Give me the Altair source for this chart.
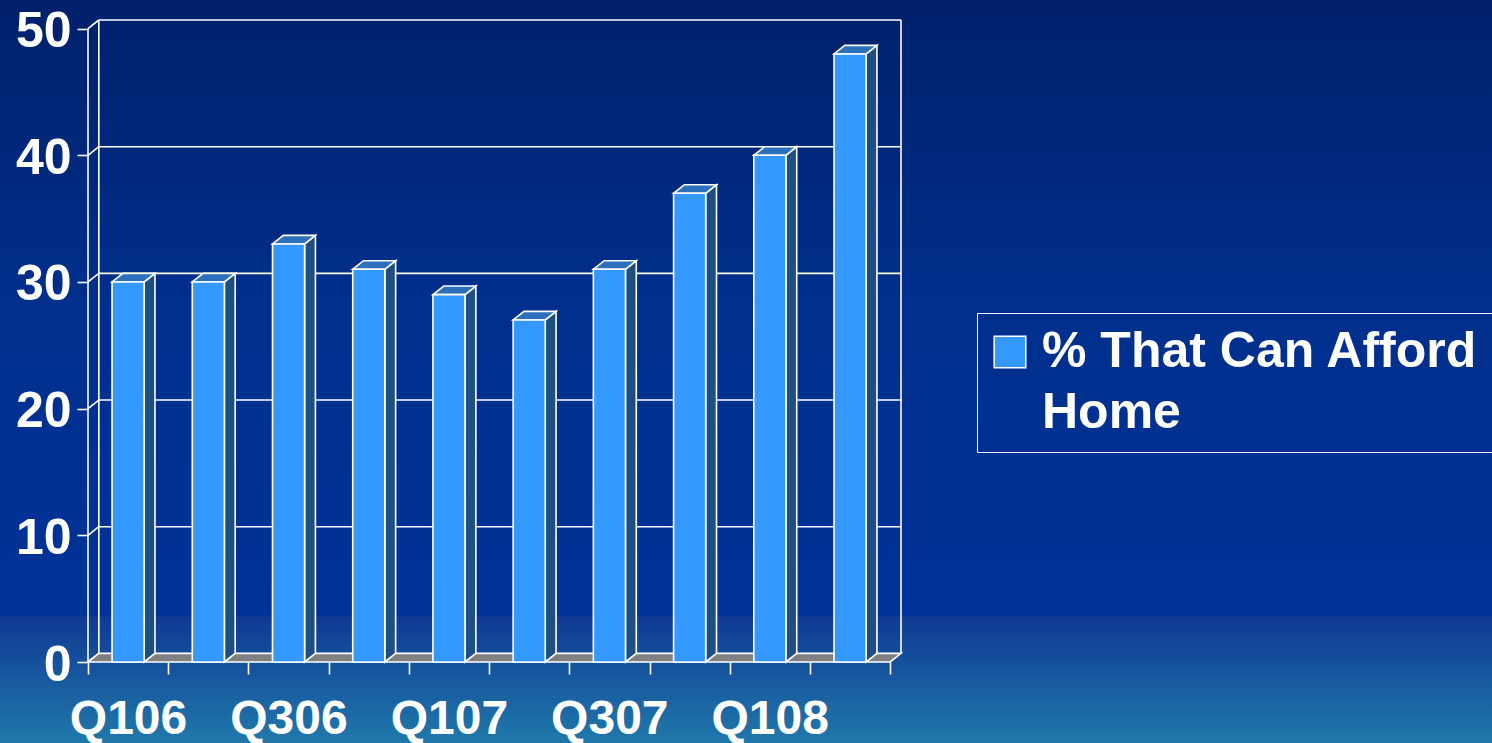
import json
import altair as alt
import pandas as pd

# ---------------- data ----------------
quarters = ["Q106", "Q206", "Q306", "Q406", "Q107", "Q207", "Q307", "Q407", "Q108", "Q208"]
values = [30, 30, 33, 31, 29, 27, 31, 37, 40, 48]
series_name = "% That Can Afford\nHome"
y_ticks = [0, 10, 20, 30, 40, 50]
grid_levels = [10, 20, 30, 40, 50]

# ---------------- style ----------------
N = len(quarters)
YMAX = 50
DX = 0.135      # 3D depth in x units (slot = 1)
DY = 0.68       # 3D depth in y units
BAR_L, BAR_R = 0.3, 0.7
W, H = 813, 642
PAD = {"left": 88, "top": 20, "right": 1492 - 88 - W, "bottom": 743 - 20 - H}
FONT = "Liberation Sans"
FRONT = "#3399ff"
TOP = "#2b6fbd"
SIDE = "#1f4f82"
FLOOR = "#808080"
LW = 1.6

xs = alt.Scale(domain=[0, N + DX], nice=False, zero=False)
ys = alt.Scale(domain=[0, YMAX + DY], nice=False, zero=False)

label_expr = (f"datum.value % 2 == 0 && datum.value < {N} ? "
              f"{json.dumps(quarters)}[datum.value] : ''")

x_axis = alt.Axis(
    values=list(range(N + 1)), labelExpr=label_expr, labelOffset=40,
    labelFlush=False, labelOverlap=False, labelFont=FONT, labelFontSize=48,
    labelFontWeight="bold", labelColor="white", labelPadding=21,
    tickColor="white", tickSize=12, tickWidth=LW, domain=False, grid=False,
    zindex=2)
y_axis = alt.Axis(
    values=y_ticks, labelFont=FONT, labelFontSize=50, labelFontWeight="bold",
    labelColor="white", labelPadding=6, labelOffset=3, labelFlush=False,
    labelOverlap=False, tickColor="white", tickSize=11, tickWidth=LW,
    domain=False, grid=False, zindex=2)

# ---------------- tables built from the arrays ----------------
bars = pd.DataFrame({
    "idx": range(N),
    "quarter": quarters,
    "value": values,
    "series": [series_name] * N,
})
bars["xl"] = bars["idx"] + BAR_L
bars["xr"] = bars["idx"] + BAR_R
bars["zero"] = 0

side_rows, top_rows = [], []
for i, v in zip(bars["idx"], bars["value"]):
    xl, xr = i + BAR_L, i + BAR_R
    side_rows += [
        {"bar": i, "x": xr, "y": 0, "y2": v},
        {"bar": i, "x": xr + DX, "y": DY, "y2": v + DY},
    ]
    top_rows += [
        {"bar": i, "x": xl, "y": v, "y2": v},
        {"bar": i, "x": xl + DX, "y": v, "y2": v + DY},
        {"bar": i, "x": xr, "y": v, "y2": v + DY},
        {"bar": i, "x": xr + DX, "y": v + DY, "y2": v + DY},
    ]
sides = pd.DataFrame(side_rows)
tops = pd.DataFrame(top_rows)

floor = pd.DataFrame({
    "x": [0, DX, N, N + DX],
    "y": [0, 0, 0, DY],
    "y2": [0, DY, DY, DY],
})

grid = pd.DataFrame({"x": [DX] * len(grid_levels), "x2": [N + DX] * len(grid_levels),
                     "y": [g + DY for g in grid_levels]})
walls = pd.DataFrame({"x": [DX, N + DX], "y": [DY, DY], "y2": [YMAX + DY, YMAX + DY]})
diags = pd.DataFrame({"x": [0] * len(y_ticks), "x2": [DX] * len(y_ticks),
                      "y": y_ticks, "y2": [t + DY for t in y_ticks]})
front_axis = pd.DataFrame({"x": [0], "y": [0], "y2": [YMAX]})

# ---------------- layers ----------------
bg = alt.Chart(pd.DataFrame({"a": [0]})).mark_rect(
    fill=alt.Gradient(
        gradient="linear", x1=0, y1=0, x2=0, y2=1,
        stops=[
            alt.GradientStop(offset=0, color="#00206a"),
            alt.GradientStop(offset=0.40, color="#002f8c"),
            alt.GradientStop(offset=0.828, color="#003399"),
            alt.GradientStop(offset=0.83, color="#0f3a94"),
            alt.GradientStop(offset=1, color="#2079aa"),
        ],
    )
).encode(
    x=alt.value(-PAD["left"]), x2=alt.value(W + PAD["right"]),
    y=alt.value(-PAD["top"]), y2=alt.value(H + PAD["bottom"]),
)


def X(f):
    return alt.X(f, type="quantitative", scale=xs, axis=x_axis, title=None)


def Y(f):
    return alt.Y(f, type="quantitative", scale=ys, axis=y_axis, title=None, stack=None)


floor_l = alt.Chart(floor).mark_area(fill=FLOOR, stroke="white", strokeWidth=LW).encode(
    x=X("x"), y=Y("y"), y2="y2")

grid_l = alt.Chart(grid).mark_rule(color="white", strokeWidth=LW).encode(
    x=X("x"), x2="x2", y=Y("y"))

walls_l = alt.Chart(walls).mark_rule(color="white", strokeWidth=LW).encode(
    x=X("x"), y=Y("y"), y2="y2")

diag_l = alt.Chart(diags).mark_rule(color="white", strokeWidth=LW).encode(
    x=X("x"), x2="x2", y=Y("y"), y2="y2")

side_l = alt.Chart(sides).mark_area(fill=SIDE, stroke="white", strokeWidth=LW).encode(
    x=X("x"), y=Y("y"), y2="y2", detail="bar:N")

top_l = alt.Chart(tops).mark_area(fill=TOP, stroke="white", strokeWidth=LW).encode(
    x=X("x"), y=Y("y"), y2="y2", detail="bar:N")

front_l = alt.Chart(bars).mark_rect(stroke="white", strokeWidth=LW).encode(
    x=X("xl"), x2="xr",
    y=Y("value"), y2="zero",
    color=alt.Color("series:N", scale=alt.Scale(range=[FRONT]), legend=alt.Legend(
        title=None, orient="none", legendX=889, legendY=293,
        strokeColor="white", padding=14, symbolType="square", symbolSize=1000,
        symbolOffset=-6, symbolStrokeColor="white", symbolStrokeWidth=1.5,
        symbolFillColor=FRONT, labelFont=FONT, labelFontSize=50,
        labelFontWeight="bold", labelColor="white", labelLimit=800, labelOffset=7,
        labelExpr="split(datum.label, '\\n')", zindex=2)),
)

axis_l = alt.Chart(front_axis).mark_rule(color="white", strokeWidth=LW).encode(
    x=X("x"), y=Y("y"), y2="y2")

chart = alt.layer(
    bg, grid_l, walls_l, diag_l, floor_l, side_l, top_l, front_l, axis_l
).properties(
    width=W, height=H, padding=PAD,
    autosize=alt.AutoSizeParams(type="none"),
    background="#003399",
).configure_view(stroke=None).configure(
    style={"guide-label": {"lineHeight": 61}}
)

chart.save("out.html", embed_options={"renderer": "svg", "actions": False})
